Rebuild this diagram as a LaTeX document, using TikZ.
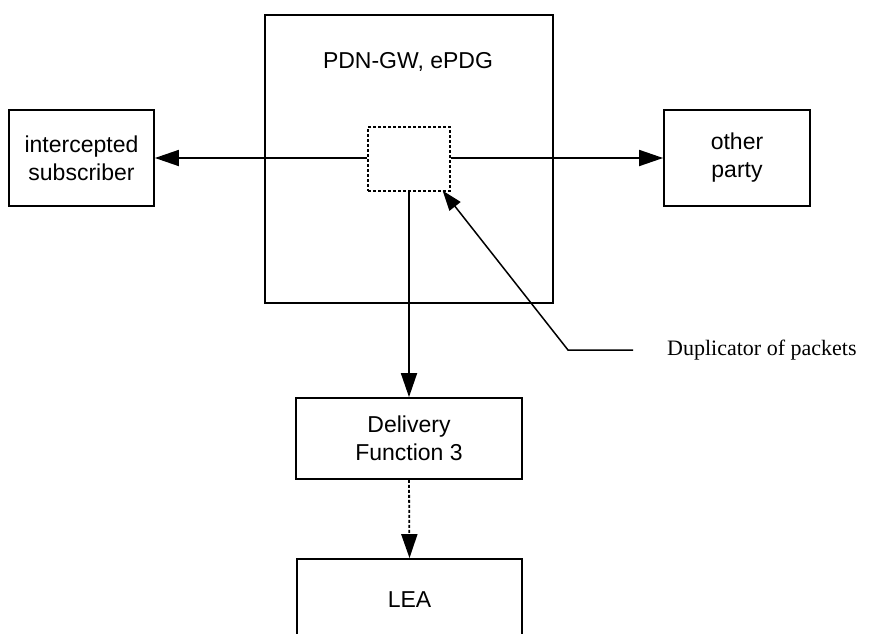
\documentclass[tikz,border=0pt]{standalone}
\usepackage{fontspec}
\setmainfont{Liberation Serif}
\setsansfont{Liberation Sans}
\usetikzlibrary{arrows.meta,positioning}

\tikzset{
  unit/.style={draw,line width=1.8pt,inner sep=0pt,align=center,
    font=\sffamily\fontsize{23}{28}\selectfont},
  dupbox/.style={draw,line width=1.4pt,dash pattern=on 3pt off 2pt,inner sep=0pt},
  flow/.style={line width=1.8pt,-{Triangle[length=24pt,width=16pt]}},
}

\begin{document}
\begin{tikzpicture}[x=1pt,y=-1pt]
  \useasboundingbox (0,0) rectangle (875,634);
  \node[unit,minimum width=288pt,minimum height=288pt] (gw) at (409,159) {};
  \node[font=\sffamily\fontsize{23}{28}\selectfont] (gwlabel) at (408,62) {PDN-GW, ePDG};
  \node[dupbox,minimum width=82pt,minimum height=64pt] (dup) at (409,159) {};
  \node[unit,minimum width=145pt,minimum height=96pt] (subs) at (81.5,158) {intercepted\\subscriber};
  \node[unit,minimum width=146pt,minimum height=96pt] (party) at (737,158) {other\\party};
  \node[unit,minimum width=226pt,minimum height=81pt] (df3) at (409,438.5) {Delivery\\Function 3};
  \node[unit,minimum width=225pt,minimum height=81pt] (lea) at (409.5,599.5) {LEA};
  \node[anchor=west,inner sep=0pt,font=\fontsize{22}{26}\selectfont] (dupltext) at (667,350) {Duplicator of packets};
  \coordinate (bend) at (568,350);

  \draw[flow] (dup.west |- subs) -- (subs.east);
  \draw[flow] (dup.east |- party) -- (party.west);
  \draw[flow] (dup.south) -- (df3.north);
  \draw[flow,dash pattern=on 3pt off 2pt] (df3.south) -- (lea.north);
  \draw[line width=1.5pt,-{Triangle[length=20pt,width=14pt]}]
    (dupltext.west) ++(-34,0) -- (bend) -- ([xshift=-8pt,yshift=1pt]dup.south east);
\end{tikzpicture}
\end{document}
